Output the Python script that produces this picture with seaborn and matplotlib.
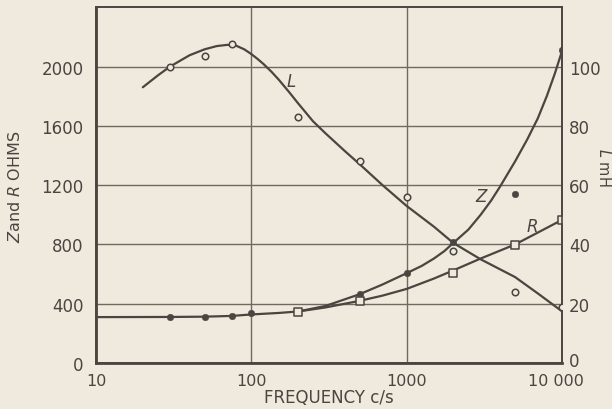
import numpy as np
import pandas as pd
import matplotlib
matplotlib.use("Agg")
import matplotlib.pyplot as plt
import matplotlib.transforms as mtransforms
import seaborn as sns

# smooth curves as drawn on the chart
l_curve_f = [20, 25, 30, 40, 50, 60, 70, 80, 90, 100, 110, 120, 135, 150, 175,
             200, 250, 300, 400, 500, 700, 1000, 1500, 2000, 3000, 5000, 7000, 10000]
l_curve_mh = [93, 97, 100, 103.8, 105.8, 106.9, 107.3, 107, 105.8, 104.2, 102.5,
              100.8, 98.2, 95.6, 91.4, 87.6, 81.5, 77.5, 71.5, 67, 60, 53, 46,
              40.5, 35, 29, 23.5, 17.5]

z_curve_f = [10, 30, 50, 75, 100, 150, 200, 300, 500, 700, 1000, 1250, 1500,
             1750, 2000, 2500, 3000, 3500, 4000, 5000, 6000, 7000, 8000, 9000, 10000]
z_curve_ohm = [310, 311, 313, 318, 328, 338, 348, 385, 465, 530, 606, 655, 705,
               755, 810, 900, 1000, 1095, 1190, 1360, 1510, 1650, 1800, 1950, 2100]

r_curve_f = [200, 300, 500, 700, 1000, 1500, 2000, 3000, 5000, 7000, 10000]
r_curve_ohm = [348, 375, 420, 455, 500, 570, 625, 705, 800, 880, 965]

# measured points
l_pts_f = [30, 50, 75, 200, 500, 1000, 2000, 5000, 10000]
l_pts_mh = [100, 103.4, 107.7, 83, 68, 56, 37.7, 24, 19]

low_pts_f = [30, 50, 75, 100]
low_pts_ohm = [310, 313, 318, 335]

z_pts_f = [500, 1000, 2000, 5000, 10000]
z_pts_ohm = [465, 606, 815, 1138, 2114]

r_pts_f = [200, 500, 2000, 5000, 10000]
r_pts_ohm = [345, 418, 606, 795, 963]

x_ticks = [10, 100, 1000, 10000]
x_tick_labels = ["10", "100", "1000", "10 000"]
ohm_ticks = [0, 400, 800, 1200, 1600, 2000]
mh_ticks = [0, 20, 40, 60, 80, 100]

bg = "#efeadd"
ink = "#4a4540"
grid_c = "#6e6a62"

sns.set_style("white")
plt.rcParams["font.family"] = ["DejaVu Sans"]

fig = plt.figure(figsize=(6.12, 4.10), dpi=100, facecolor=bg)
ax = fig.add_axes([0.157, 0.112, 0.761, 0.868])
ax.set_facecolor(bg)
ax2 = ax.twinx()

# curves
sns.lineplot(x=z_curve_f, y=z_curve_ohm, ax=ax, color=ink, lw=1.6, sort=False)
sns.lineplot(x=r_curve_f, y=r_curve_ohm, ax=ax, color=ink, lw=1.6, sort=False)
sns.lineplot(x=l_curve_f, y=l_curve_mh, ax=ax2, color=ink, lw=1.6, sort=False)

# points
sns.scatterplot(x=low_pts_f + z_pts_f, y=low_pts_ohm + z_pts_ohm, ax=ax,
                color=ink, s=22, marker="o", edgecolor=ink, zorder=5)
sns.scatterplot(x=r_pts_f, y=r_pts_ohm, ax=ax, marker="s", s=28,
                facecolor=bg, edgecolor=ink, linewidth=1.1, zorder=5)
sns.scatterplot(x=l_pts_f, y=l_pts_mh, ax=ax2, marker="o", s=22,
                facecolor=bg, edgecolor=ink, linewidth=1.1, zorder=5)

ax.set_xscale("log")
ax.set_xlim(10, 10000)
ax.set_ylim(0, 2400)
ax2.set_ylim(0, 120)

ax.set_xticks(x_ticks)
ax.set_xticklabels(x_tick_labels)
ax.xaxis.set_minor_locator(matplotlib.ticker.NullLocator())
ax.set_yticks(ohm_ticks)
ax2.set_yticks(mh_ticks)

ax.grid(True, which="major", color=grid_c, lw=1.0)
ax.tick_params(axis="y", length=0, labelsize=12, colors=ink, pad=9)
ax.tick_params(axis="x", length=0, labelsize=11.5, colors=ink, pad=7)
ax2.tick_params(axis="y", length=0, labelsize=12, colors=ink, pad=5)

# nudge the right-hand "0" up and "10 000" left so they don't collide
shift_up = mtransforms.ScaledTranslation(0, 3 / 72, fig.dpi_scale_trans)
lbl0 = ax2.get_yticklabels()[0]
lbl0.set_transform(lbl0.get_transform() + shift_up)
shift_left = mtransforms.ScaledTranslation(-4 / 72, 0, fig.dpi_scale_trans)
lbl_end = ax.get_xticklabels()[-1]
lbl_end.set_transform(lbl_end.get_transform() + shift_left)

for a in (ax, ax2):
    for side in a.spines.values():
        side.set_color(ink)
        side.set_linewidth(1.2)
ax.spines["left"].set_linewidth(2.0)
ax.spines["bottom"].set_linewidth(2.0)

ax.set_xlabel("FREQUENCY c/s", fontsize=12, color=ink, labelpad=0)
fig.text(15 / 612, 1 - 187 / 410, r"$Z$and $R$ OHMS", fontsize=11.5, color=ink,
         rotation=90, ha="center", va="center")
fig.text(604 / 612, 1 - 167 / 410, r"$L$ mH", fontsize=10.5, color=ink,
         rotation=270, ha="center", va="center")

# curve labels
ax2.text(180, 95, "L", fontsize=12, style="italic", color=ink, ha="center", va="center")
ax.text(3000, 1125, "Z", fontsize=12, style="italic", color=ink, ha="center", va="center")
ax.text(6500, 922, "R", fontsize=12, style="italic", color=ink, ha="center", va="center")

fig.savefig("out.png", dpi=100, facecolor=bg)
